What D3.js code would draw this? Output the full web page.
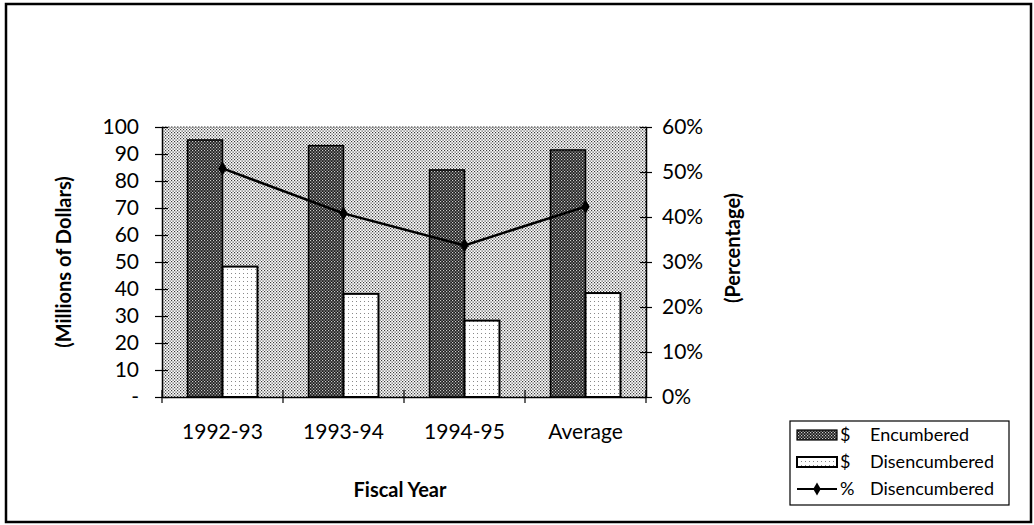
<!DOCTYPE html>
<html>
<head>
<meta charset="utf-8">
<script src="https://cdn.jsdelivr.net/npm/d3@7"></script>
<style>
  html, body { margin: 0; padding: 0; background: #fff; }
  svg { display: block; font-family: Lato, "Open Sans", sans-serif; }
</style>
</head>
<body>
<svg id="chart" width="1034" height="525"></svg>
<script>
// Fiscal years shown along the bottom axis
const categories = ["1992-93", "1993-94", "1994-95", "Average"];
// Dollars encumbered and disencumbered, millions
const encumbered = [95.2, 93.1, 84.1, 91.5];
const disencumbered = [48.3, 38.2, 28.3, 38.5];
// Share of encumbrances that were disencumbered
const pctDisencumbered = [0.508, 0.408, 0.337, 0.423];
// Axis ticks
const dollarTicks = [0, 10, 20, 30, 40, 50, 60, 70, 80, 90, 100];
const pctTicks = [0, 0.1, 0.2, 0.3, 0.4, 0.5, 0.6];
const legendLabels = [["$", "Encumbered"], ["$", "Disencumbered"], ["%", "Disencumbered"]];

const svg = d3.select("#chart");
const plot = { left: 162, right: 646, top: 127, bottom: 397 };

// Halftone fills
const defs = svg.append("defs");
const bgPat = defs.append("pattern").attr("id", "bgDots")
  .attr("width", 3).attr("height", 3).attr("patternUnits", "userSpaceOnUse");
bgPat.append("rect").attr("width", 3).attr("height", 3).attr("fill", "#fff");
bgPat.append("rect").attr("x", 0).attr("y", 0).attr("width", 1.2).attr("height", 1.2).attr("fill", "#3a3a3a");
bgPat.append("rect").attr("x", 1.5).attr("y", 1.5).attr("width", 1.2).attr("height", 1.2).attr("fill", "#3a3a3a");

const darkPat = defs.append("pattern").attr("id", "darkDots")
  .attr("width", 3).attr("height", 3).attr("patternUnits", "userSpaceOnUse");
darkPat.append("rect").attr("width", 3).attr("height", 3).attr("fill", "#1a1a1a");
darkPat.append("rect").attr("x", 0).attr("y", 0).attr("width", 1.2).attr("height", 1.2).attr("fill", "#ccc");
darkPat.append("rect").attr("x", 1.5).attr("y", 1.5).attr("width", 1.2).attr("height", 1.2).attr("fill", "#ccc");

const lightPat = defs.append("pattern").attr("id", "lightDots")
  .attr("width", 4).attr("height", 4).attr("patternUnits", "userSpaceOnUse");
lightPat.append("rect").attr("width", 4).attr("height", 4).attr("fill", "#fff");
lightPat.append("rect").attr("x", 1).attr("y", 1).attr("width", 1).attr("height", 1).attr("fill", "#888");

// Outer frame
svg.append("rect").attr("x", 6).attr("y", 4).attr("width", 1025).attr("height", 518)
  .attr("fill", "none").attr("stroke", "#000").attr("stroke-width", 2.5);

// Scales
const x = d3.scaleBand().domain(categories).range([plot.left, plot.right]).paddingInner(0).paddingOuter(0);
const sub = d3.scaleBand().domain(["enc", "dis"]).range([0, x.bandwidth()]).paddingInner(0).paddingOuter(0.73);
const yL = d3.scaleLinear().domain([0, 100]).range([plot.bottom, plot.top]);
const yR = d3.scaleLinear().domain([0, 0.6]).range([plot.bottom, plot.top]);

// Plot background
svg.append("rect").attr("x", plot.left).attr("y", plot.top)
  .attr("width", plot.right - plot.left).attr("height", plot.bottom - plot.top)
  .attr("fill", "url(#bgDots)");
svg.append("path")
  .attr("d", `M${plot.left},${plot.top}H${plot.right}V${plot.bottom}`)
  .attr("fill", "none").attr("stroke", "#333").attr("stroke-width", 1.2).attr("stroke-dasharray", "1.5,1.5");

// Bars
const groups = svg.append("g").selectAll("g").data(categories).join("g")
  .attr("transform", d => `translate(${x(d)},0)`);
groups.append("rect")
  .attr("x", sub("enc")).attr("width", sub.bandwidth())
  .attr("y", (d, i) => yL(encumbered[i]))
  .attr("height", (d, i) => yL(0) - yL(encumbered[i]))
  .attr("fill", "url(#darkDots)").attr("stroke", "#000").attr("stroke-width", 1.5);
groups.append("rect")
  .attr("x", sub("dis")).attr("width", sub.bandwidth())
  .attr("y", (d, i) => yL(disencumbered[i]))
  .attr("height", (d, i) => yL(0) - yL(disencumbered[i]))
  .attr("fill", "url(#lightDots)").attr("stroke", "#000").attr("stroke-width", 2);

// Percentage line
const pts = categories.map((c, i) => [x(c) + x.bandwidth() / 2, yR(pctDisencumbered[i])]);
svg.append("path").attr("d", d3.line()(pts))
  .attr("fill", "none").attr("stroke", "#000").attr("stroke-width", 2.5);
svg.append("g").selectAll("path").data(pts).join("path")
  .attr("d", d3.symbol(d3.symbolDiamond, 60))
  .attr("transform", d => `translate(${d[0]},${d[1]})`)
  .attr("fill", "#000");

// Axes
const fmtDollar = d => d === 0 ? "-" : d;
const leftAxis = d3.axisLeft(yL).tickValues(dollarTicks).tickFormat(fmtDollar).tickSizeInner(7).tickSizeOuter(0).tickPadding(16);
const gL = svg.append("g").attr("transform", `translate(${plot.left},0)`).call(leftAxis);
gL.selectAll(".tick line").attr("x1", 6);

const rightAxis = d3.axisRight(yR).tickValues(pctTicks).tickFormat(d3.format(".0%")).tickSizeInner(6).tickSizeOuter(0).tickPadding(10);
const gR = svg.append("g").attr("transform", `translate(${plot.right},0)`).call(rightAxis);
gR.selectAll(".tick line").attr("x1", -6);

const bottomAxis = d3.axisBottom(x).tickSize(0).tickPadding(27);
const gB = svg.append("g").attr("transform", `translate(0,${plot.bottom})`).call(bottomAxis);
// category separators
const seps = categories.map(c => x(c)).concat([plot.right]);
gB.selectAll(".sep").data(seps).join("line").attr("class", "sep")
  .attr("x1", d => d).attr("x2", d => d).attr("y1", -7).attr("y2", 6)
  .attr("stroke", "#000").attr("stroke-width", 1.2);

[gL, gR, gB].forEach(g => {
  g.select(".domain").attr("stroke", "#000").attr("stroke-width", 1.5);
  g.selectAll(".tick line").attr("stroke", "#000").attr("stroke-width", 1.2);
  g.selectAll("text").attr("font-family", "Lato, 'Open Sans', sans-serif")
    .attr("font-size", 21).attr("fill", "#000");
});

// Axis titles
svg.append("text").attr("transform", "translate(71,262) rotate(-90)")
  .attr("text-anchor", "middle").attr("font-size", 20).attr("font-weight", "bold")
  .text("(Millions of Dollars)");
svg.append("text").attr("transform", "translate(740,248) rotate(-90)")
  .attr("text-anchor", "middle").attr("font-size", 20).attr("font-weight", "bold")
  .text("(Percentage)");
svg.append("text").attr("x", 400).attr("y", 497)
  .attr("text-anchor", "middle").attr("font-size", 20).attr("font-weight", "bold")
  .text("Fiscal Year");

// Legend
const lg = svg.append("g");
lg.append("rect").attr("x", 790).attr("y", 421).attr("width", 219).attr("height", 84)
  .attr("fill", "#fff").attr("stroke", "#000").attr("stroke-width", 1.2);
const rowY = [435, 462, 489];
lg.append("rect").attr("x", 797).attr("y", rowY[0] - 5).attr("width", 40).attr("height", 10)
  .attr("fill", "url(#darkDots)").attr("stroke", "#000").attr("stroke-width", 1.2);
lg.append("rect").attr("x", 797).attr("y", rowY[1] - 5).attr("width", 40).attr("height", 10)
  .attr("fill", "url(#lightDots)").attr("stroke", "#000").attr("stroke-width", 2);
lg.append("line").attr("x1", 797).attr("x2", 837).attr("y1", rowY[2]).attr("y2", rowY[2])
  .attr("stroke", "#000").attr("stroke-width", 2);
lg.append("path").attr("d", d3.symbol(d3.symbolDiamond, 50))
  .attr("transform", `translate(817,${rowY[2]})`).attr("fill", "#000");
legendLabels.forEach((l, i) => {
  lg.append("text").attr("x", 840).attr("y", rowY[i]).attr("dy", "0.35em")
    .attr("font-size", 18).text(l[0]);
  lg.append("text").attr("x", 870).attr("y", rowY[i]).attr("dy", "0.35em")
    .attr("font-size", 18).text(l[1]);
});
</script>
</body>
</html>
